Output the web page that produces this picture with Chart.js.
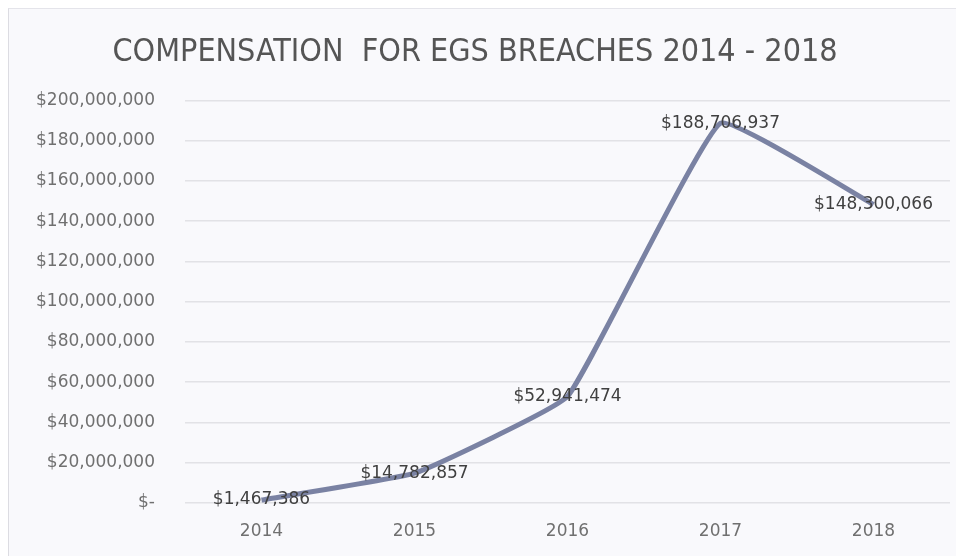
<!DOCTYPE html>
<html>
<head>
<meta charset="utf-8">
<script src="https://cdn.jsdelivr.net/npm/chart.js@4/dist/chart.umd.min.js"></script>
<style>
  html, body { margin: 0; padding: 0; background: #ffffff; }
  #wrap {
    position: absolute; left: 8px; top: 8px; width: 947px; height: 547px;
    background: #f9f9fc; border-left: 1px solid #dcdce2; border-top: 1px solid #e4e4ea;
  }
  #chart { position: absolute; left: -9px; top: -9px; }
</style>
</head>
<body>
<div id="wrap"><canvas id="chart" width="956" height="556"></canvas></div>
<script>
// Data
const years = ["2014", "2015", "2016", "2017", "2018"];
const compensation = [1467386, 14782857, 52941474, 188706937, 148300066];
const yMax = 200000000;
const yStep = 20000000;

function money(v) {
  return v === 0 ? "$-" : "$" + v.toLocaleString("en-US");
}

// Draw the value labels centred on each point
const valueLabels = {
  id: "valueLabels",
  afterDatasetsDraw(chart) {
    const ctx = chart.ctx;
    const meta = chart.getDatasetMeta(0);
    ctx.save();
    ctx.font = "17px 'DejaVu Sans'";
    ctx.fillStyle = "#404040";
    ctx.textAlign = "center";
    ctx.textBaseline = "middle";
    meta.data.forEach((pt, i) => {
      ctx.fillText(money(compensation[i]), pt.x, pt.y);
    });
    ctx.restore();
  }
};

const ctx = document.getElementById("chart").getContext("2d");
new Chart(ctx, {
  type: "line",
  data: {
    labels: years,
    datasets: [{
      data: compensation,
      borderColor: "#7a82a3",
      borderWidth: 5,
      pointRadius: 0,
      tension: 0.1,
      fill: false
    }]
  },
  options: {
    responsive: false,
    animation: false,
    layout: { padding: { left: 0, right: 6, top: 0, bottom: 13 } },
    plugins: {
      legend: { display: false },
      tooltip: { enabled: false },
      title: {
        display: true,
        text: "COMPENSATION  FOR EGS BREACHES 2014 - 2018",
        color: "#555555",
        font: { family: "'Liberation Sans Narrow', 'DejaVu Sans Condensed', sans-serif", size: 32, weight: "normal" },
        padding: { top: 33, bottom: 29 }
      }
    },
    scales: {
      x: {
        offset: true,
        grid: { display: false, drawTicks: false },
        border: { display: false },
        ticks: { color: "#707070", font: { family: "'DejaVu Sans'", size: 17 }, padding: 18 },
        afterFit(s) { s.height = 40; }
      },
      y: {
        min: 0,
        max: yMax,
        grid: { color: "#e2e2e6", lineWidth: 1.5, drawTicks: false },
        border: { display: false },
        ticks: {
          stepSize: yStep,
          color: "#707070",
          font: { family: "'DejaVu Sans'", size: 17 },
          padding: 30,
          callback: v => money(v)
        },
        afterFit(s) { s.width = 185; }
      }
    }
  },
  plugins: [valueLabels]
});
</script>
</body>
</html>
